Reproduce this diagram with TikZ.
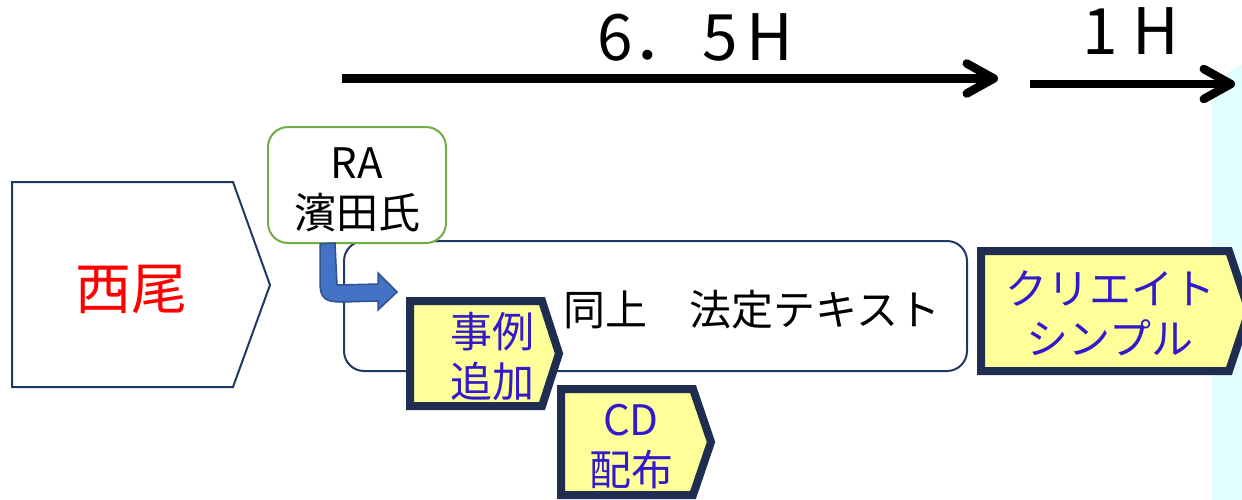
\documentclass[tikz,border=0pt]{standalone}
\usepackage{fontspec}
\setmainfont{Noto Sans CJK JP}
\usetikzlibrary{arrows.meta}
\definecolor{navy}{RGB}{31,45,80}
\definecolor{boxline}{RGB}{31,56,100}
\definecolor{ragreen}{RGB}{112,173,71}
\definecolor{yfill}{RGB}{255,255,153}
\definecolor{ytext}{RGB}{51,25,204}
\definecolor{cyanbg}{RGB}{226,254,254}
\definecolor{arrowblue}{RGB}{68,114,196}
\definecolor{arrowedge}{RGB}{47,82,143}
\tikzset{
  timearrow/.style={line width=8.5pt, -{Straight Barb[length=27pt,width=30pt,line cap=round,round]}},
  toplabel/.style={font=\fontsize{64}{70}\selectfont, inner sep=0pt},
  jtext/.style={font=\fontsize{42}{50}\selectfont, align=center, inner sep=0pt},
  ypent/.style={draw=navy, line width=8pt, fill=yfill, line join=miter},
  ytxt/.style={jtext, text=ytext},
}
\begin{document}
\begin{tikzpicture}[x=1pt,y=-1pt]
\useasboundingbox (0,0) rectangle (1242,499);
% background cyan panel
\fill[cyanbg, rounded corners=45pt] (1212,62) rectangle (1330,560);
% time arrows
\coordinate (a1s) at (342,78.5);
\coordinate (a1e) at (998,78.5);
\coordinate (a2s) at (1030,84);
\coordinate (a2e) at (1235,84);
\draw[timearrow] (a1s) -- (a1e);
\draw[timearrow] (a2s) -- (a2e);
\node[toplabel, anchor=base] (t1) at (695,60) {6．\hspace{6pt}5\hspace{8pt}H};
\node[toplabel, anchor=base] (t2) at (1131,54) {1\hspace{14pt}H};
% 西尾
\draw[boxline, line width=2pt] (12,182) -- (233,182) -- (270,285) -- (233,387) -- (12,387) -- cycle;
\node[font=\fontsize{56}{60}\selectfont, text=red, inner sep=0pt] (nishio) at (131,289) {西尾};
% big rounded box
\draw[boxline, line width=2pt, rounded corners=20pt, fill=white] (344,241) rectangle (967,371);
\node[jtext] (txt) at (752,310) {同上　法定テキスト};
% RA box
\node[draw=ragreen, line width=2pt, fill=white, rounded corners=20pt, minimum width=178pt, minimum height=116pt, inner sep=0pt] (ra) at (357,185) {};
\node[jtext] (ratxt) at (357,190) {RA\\濱田氏};
% bent arrow from RA to box
\coordinate (bs) at ([xshift=-37pt]ra.south);
\filldraw[fill=arrowblue, draw=arrowedge, line width=1.5pt]
  (bs) -- ++(0,39) .. controls ++(0,16) and ++(-16,0) .. ++(22,19)
  -- ++(36,-1) -- ++(0,9) -- ++(19,-18) -- ++(-19,-19) -- ++(0,11) -- ++(-41,1) -- ++(-2,-42) -- cycle;
% 事例追加
\draw[ypent] (410,301) -- (542,301) -- (559,353.5) -- (542,406) -- (410,406) -- cycle;
\node[ytxt] (jirei) at (492,357) {事例\\追加};
% CD配布
\draw[ypent] (561,389) -- (693,389) -- (711,442) -- (693,495) -- (561,495) -- cycle;
\node[ytxt] (cd) at (631,447) {CD\\配布};
% クリエイトシンプル
\draw[ypent] (981,251) -- (1229,251) -- (1249,311) -- (1229,371) -- (981,371) -- cycle;
\node[ytxt] (create) at (1110,313) {クリエイト\\シンプル};
\end{tikzpicture}
\end{document}
